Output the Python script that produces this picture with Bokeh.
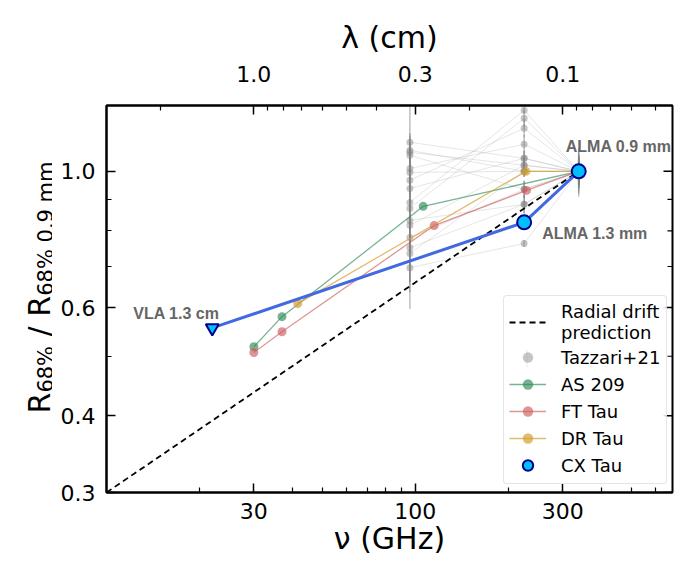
from bokeh.plotting import figure
from bokeh.layouts import row
from bokeh.models import (LogAxis, FixedTicker, PrintfTickFormatter, Label, Legend,
                          LegendItem, BoxAnnotation, Range1d)
from bokeh.embed import file_html
from bokeh.resources import INLINE

# ---------------- data ----------------
# radial drift prediction (straight line in log-log space): end points
drift_nu = [10.0, 338.0]
drift_r = [0.30, 1.00]

# Tazzari+21 sample (3.1 mm, 1.3 mm, 0.9 mm), normalised at 0.9 mm
taz_nu = [96.0, 225.0, 338.0]
taz_r96 = [1.115, 1.082, 1.074, 1.062, 1.011, 0.996, 0.967, 0.938,
           0.890, 0.870, 0.832, 0.817, 0.780, 0.751, 0.735, 0.697]
taz_e96 = [0.17, 0.06, 0.08, 0.05, 0.10, 0.06, 0.08, 0.07,
           0.09, 0.06, 0.10, 0.08, 0.12, 0.09, 0.10, 0.10]
taz_r225 = [1.050, 1.000, 1.023, 0.935, 1.107, 1.000, 1.175, 1.050,
            1.257, 1.220, 0.884, 1.023, 0.935, 0.884, 1.000, 0.763]
taz_e225 = [0.03, 0.02, 0.03, 0.03, 0.04, 0.02, 0.04, 0.03,
            0.015, 0.04, 0.03, 0.03, 0.03, 0.03, 0.02, 0.01]
taz_r338 = [1.0, 1.0, 1.0, 1.0, 1.0, 1.0, 1.0, 1.0,
            1.0, 1.0, 1.0, 1.0, 1.0, 1.0, 1.0, 1.0]
taz_e338 = [0.09, 0.05, 0.04, 0.06, 0.03, 0.05, 0.07, 0.04,
            0.06, 0.05, 0.04, 0.08, 0.05, 0.03, 0.06, 0.04]

as209_nu = [30.0, 37.0, 106.0, 338.0]
as209_r = [0.518, 0.580, 0.877, 1.0]
fttau_nu = [30.0, 37.0, 115.0, 229.0, 338.0]
fttau_r = [0.507, 0.548, 0.816, 0.931, 1.0]
drtau_nu = [41.6, 228.0, 338.0]
drtau_r = [0.609, 1.0, 1.0]
cx_nu = [22.0, 225.0, 338.0]
cx_r = [0.556, 0.826, 1.0]
cx_names = ["VLA 1.3 cm", "ALMA 1.3 mm", "ALMA 0.9 mm"]

x_ticks = [30, 100, 300]
x_minor = [20, 40, 50, 60, 70, 80, 90, 200, 400, 500, 600]
lam_ticks = [1.0, 0.3, 0.1]
lam_labels = ["1.0", "0.3", "0.1"]
lam_minor = [2.0, 0.9, 0.8, 0.7, 0.6, 0.5, 0.4, 0.2, 0.09, 0.08, 0.07, 0.06, 0.05]
y_ticks = [0.3, 0.4, 0.6, 1.0]
y_minor = [0.5, 0.7, 0.8, 0.9]

C_CM_GHZ = 30.0  # nu[GHz] = 30 / lambda[cm]
X_RANGE = (10.0, 680.0)
Y_RANGE = (0.3, 1.28)

# ---------------- main figure ----------------
H = 562
MT, MB = 105, 70
YW = 52            # width of the strip holding the y-axis title
PW = 678 - YW
p = figure(width=PW, height=H, x_axis_type="log", y_axis_type="log",
           x_range=Range1d(*X_RANGE), y_range=Range1d(*Y_RANGE),
           output_backend="svg", toolbar_location=None,
           min_border_left=106 - YW, min_border_right=6,
           min_border_top=MT, min_border_bottom=MB)
p.xgrid.visible = False
p.ygrid.visible = False
p.outline_line_color = "black"
p.outline_line_width = 2
p.background_fill_color = "white"
p.border_fill_color = "white"


def style(ax):
    ax.major_tick_in = 9
    ax.major_tick_out = 0
    ax.minor_tick_in = 5
    ax.minor_tick_out = 0
    ax.major_tick_line_width = 1.5
    ax.minor_tick_line_width = 1.2
    ax.major_tick_line_color = "black"
    ax.minor_tick_line_color = "black"
    ax.axis_line_width = 2
    ax.axis_line_color = "black"
    ax.major_label_text_font = "DejaVu Sans"
    ax.major_label_text_font_size = "22px"
    ax.major_label_text_color = "black"
    ax.axis_label_text_font = "DejaVu Sans"
    ax.axis_label_text_font_size = "30px"
    ax.axis_label_text_font_style = "normal"
    ax.axis_label_text_color = "black"


xa = p.xaxis[0]
xa.ticker = FixedTicker(ticks=x_ticks, minor_ticks=x_minor)
xa.formatter = PrintfTickFormatter(format="%d")
style(xa)
xa.major_label_standoff = 10
xa.axis_label = "\u03bd (GHz)"
xa.axis_label_standoff = -1

ya = p.yaxis[0]
ya.ticker = FixedTicker(ticks=y_ticks, minor_ticks=y_minor)
ya.formatter = PrintfTickFormatter(format="%.1f")
style(ya)
ya.major_label_standoff = 11

top_major = [int(round(C_CM_GHZ / l)) for l in lam_ticks]
top_minor = [C_CM_GHZ / l for l in lam_minor]
top = LogAxis(ticker=FixedTicker(ticks=top_major, minor_ticks=top_minor),
              major_label_overrides={k: v for k, v in zip(top_major, lam_labels)})
style(top)
top.major_label_standoff = 24
top.axis_label = "\u03bb (cm)"
top.axis_label_standoff = 8
p.add_layout(top, "above")

# inward ticks on the right-hand frame edge
p.ray(x=[X_RANGE[1]] * len(y_ticks), y=y_ticks, length=9, length_units="screen",
      angle=180, angle_units="deg", line_color="black", line_width=1.5)
p.ray(x=[X_RANGE[1]] * len(y_minor), y=y_minor, length=5, length_units="screen",
      angle=180, angle_units="deg", line_color="black", line_width=1.2)

# ---------------- glyphs ----------------
taz_xs = [list(taz_nu) for _ in taz_r96]
taz_ys = [[a, b, c] for a, b, c in zip(taz_r96, taz_r225, taz_r338)]
p.multi_line(taz_xs, taz_ys, line_color="#9a9a9a", line_alpha=0.25, line_width=1)

ex, ey0, ey1, px, py = [], [], [], [], []
for nu, rr, ee in zip(taz_nu, [taz_r96, taz_r225, taz_r338], [taz_e96, taz_e225, taz_e338]):
    for r, e in zip(rr, ee):
        ex.append(nu)
        ey0.append(r - e)
        ey1.append(r + e)
        px.append(nu)
        py.append(r)
p.segment(x0=ex, y0=ey0, x1=ex, y1=ey1, line_color="#808080", line_alpha=0.5, line_width=1.5)
taz_pts = p.scatter(px, py, size=7, fill_color="#808080", fill_alpha=0.45, line_color=None)


def series(nu, r, color, alpha=0.7):
    ln = p.line(nu, r, line_color=color, line_alpha=alpha, line_width=1.3)
    sc = p.scatter(nu, r, size=9, fill_color=color, fill_alpha=alpha, line_color=None)
    return ln, sc


as_l, as_s = series(as209_nu, as209_r, "#2e8b57", 0.65)
ft_l, ft_s = series(fttau_nu, fttau_r, "#cd5c5c", 0.65)
dr_l, dr_s = series(drtau_nu, drtau_r, "#d4a030", 0.7)

drift = p.line(drift_nu, drift_r, line_color="black", line_dash="6 4", line_width=1.8)

p.line(cx_nu, cx_r, line_color="#4169e1", line_width=3)
p.scatter(cx_nu[:1], cx_r[:1], marker="inverted_triangle", size=13,
          fill_color="#00bfff", line_color="#00008b", line_width=2)
cx_c = p.scatter(cx_nu[1:], cx_r[1:], marker="circle", size=14,
                 fill_color="#00bfff", line_color="#00008b", line_width=2)

# point annotations
offsets = [(-79, 14), (18, -11), (-13, 25)]
for nu, r, name, (dx, dy) in zip(cx_nu, cx_r, cx_names, offsets):
    p.add_layout(Label(x=nu, y=r, x_offset=dx, y_offset=dy, text=name,
                       text_font="Liberation Sans", text_font_style="bold",
                       text_font_size="16px", text_color="#666666",
                       text_baseline="alphabetic", text_align="left"))

# ---------------- legend ----------------
LX, LY, PAD, GW, GH, SP = 397, 8, 5, 37, 26, 1
legend = Legend(items=[
    LegendItem(label="Radial drift\nprediction", renderers=[drift]),
    LegendItem(label="Tazzari+21", renderers=[taz_pts]),
    LegendItem(label="AS 209", renderers=[as_l, as_s]),
    LegendItem(label="FT Tau", renderers=[ft_l, ft_s]),
    LegendItem(label="DR Tau", renderers=[dr_l, dr_s]),
    LegendItem(label="CX Tau", renderers=[cx_c]),
], location=(LX, LY))
legend.label_text_font = "DejaVu Sans"
legend.label_text_font_size = "18px"
legend.label_text_color = "black"
legend.glyph_width = GW
legend.glyph_height = GH
legend.label_height = 20
legend.label_width = 100
legend.label_standoff = 15
legend.spacing = SP
legend.padding = PAD
legend.margin = 0
legend.border_line_color = "#cccccc"
legend.border_line_width = 1
legend.background_fill_alpha = 0.85
if "border_radius" in Legend.properties():
    legend.border_radius = 4
p.add_layout(legend)

# vertical error bar glyph of the Tazzari+21 legend entry
gx = LX + PAD + GW / 2
gy = LY + PAD + GH / 2 + 4 * (GH + SP)
p.add_layout(BoxAnnotation(left=gx - 1, right=gx + 1, bottom=gy - 8.5, top=gy + 8.5,
                           left_units="screen", right_units="screen",
                           top_units="screen", bottom_units="screen",
                           fill_color="#808080", fill_alpha=0.6, line_alpha=0,
                           level="overlay"))

# ---------------- y-axis title strip ----------------
# its frame spans the same rows as the main frame; data units = canvas pixels
yf = figure(width=YW, height=H, x_range=Range1d(0, YW), y_range=Range1d(MB, H - MT),
            output_backend="svg", toolbar_location=None,
            x_axis_location=None, y_axis_location=None,
            min_border_left=0, min_border_right=0, min_border_top=MT, min_border_bottom=MB)
yf.outline_line_color = None
yf.background_fill_color = "white"
yf.border_fill_color = "white"
yf.xgrid.visible = False
yf.ygrid.visible = False


def ylab(x, y, text, size):
    yf.add_layout(Label(x=x, y=y, text=text, angle=90, angle_units="deg",
                        text_font="DejaVu Sans", text_font_size=size,
                        text_color="black", text_align="left",
                        text_baseline="alphabetic"))


BX, SX, Y0 = 39, 45, H - 413
ylab(BX, Y0, "R", "30px")
ylab(SX, Y0 + 20.9, "68%", "21px")
ylab(BX, Y0 + 77.1, "/", "30px")
ylab(BX, Y0 + 96.8, "R", "30px")
ylab(SX, Y0 + 117.7, "68% 0.9 mm", "21px")

layout = row(yf, p, spacing=0)
open("out.html", "w").write(file_html(layout, INLINE))
